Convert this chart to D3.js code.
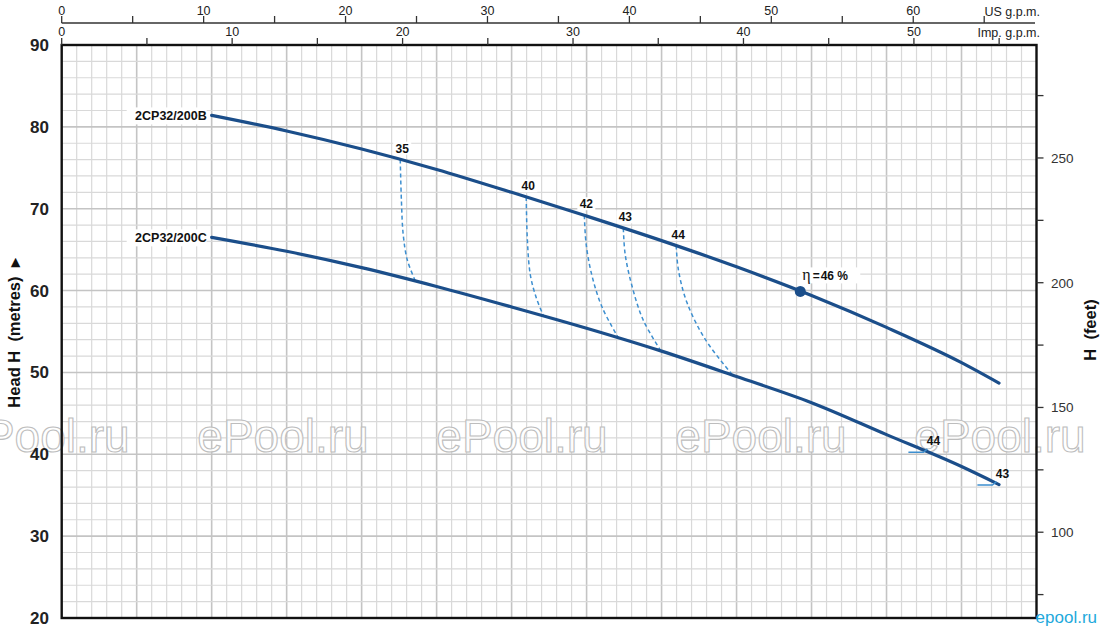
<!DOCTYPE html>
<html><head><meta charset="utf-8">
<script src="https://cdn.jsdelivr.net/npm/d3@7"></script>
<style>
html,body{margin:0;padding:0;background:#fff;}
svg{display:block;}
.narrow{font-family:"Liberation Sans Narrow","Arial Narrow","Liberation Sans",Arial,sans-serif;}
.sans{font-family:"Liberation Sans",Arial,sans-serif;}
</style></head>
<body>
<svg id="chart" width="1100" height="631"></svg>
<script>
// ---------------- DATA ----------------
// Flow in l/min (hidden base axis), head in metres
const flowDomain = [0, 260];
const headDomain = [20, 90];
const headTicks = [20, 30, 40, 50, 60, 70, 80, 90];
const feetTicks = [75, 100, 125, 150, 175, 200, 225, 250, 275];
const feetLabels = [100, 150, 200, 250];
const usTicks = [0,5,10,15,20,25,30,35,40,45,50,55,60,65];
const usLabels = [0,10,20,30,40,50,60];
const impTicks = [0,5,10,15,20,25,30,35,40,45,50,55];
const impLabels = [0,10,20,30,40,50];

const curveQ = [40, 60, 80, 100, 120, 140, 160, 180, 200, 220, 240, 250];
const curveB_H = [81.4, 79.5, 77.3, 74.8, 72.0, 69.1, 66.1, 62.9, 59.4, 55.5, 51.2, 48.7];
const curveC_H = [66.5, 64.8, 62.8, 60.5, 58.0, 55.4, 52.6, 49.5, 46.3, 42.4, 38.5, 36.3];
const curveNames = ["2CP32/200B", "2CP32/200C"];

// iso-efficiency dashed lines [Q, H] from curve B to curve C
const iso35 = [[90.3,76.0],[90.6,71.1],[91.1,66.8],[92.2,63.7],[94.3,61.2]];
const iso40 = [[123.9,71.4],[124.2,66.2],[125.0,61.9],[126.6,59.1],[128.5,56.9]];
const iso42 = [[139.4,69.2],[139.9,65.6],[141.5,61.7],[144.2,57.9],[148.5,54.2]];
const iso43 = [[149.8,67.6],[150.3,64.4],[152.2,60.4],[155.1,56.4],[159.7,52.7]];
const iso44 = [[163.9,65.5],[164.5,62.5],[166.8,58.5],[171.7,54.0],[178.9,49.7]];
const isoLines = [iso35, iso40, iso42, iso43, iso44];
const isoLabels = ["35", "40", "42", "43", "44"];

// efficiency marks at the end of curve C
const endMarkQ = [230.9, 249.3];
const endMarkH = [40.3, 36.3];
const endMarkLabels = ["44", "43"];

// best efficiency point
const bepQ = 197.0, bepH = 59.9, bepLabel = "46 %";

const watermarkCenters = [44, 283, 522, 761, 1000];

// ---------------- SCALES ----------------
const X0 = 61.7, X1 = 1036.5, YT = 45, YB = 618;
const svg = d3.select("#chart");
const x = d3.scaleLinear().domain(flowDomain).range([X0, X1]);
const y = d3.scaleLinear().domain(headDomain).range([YB, YT]);
const M2FT = 3.28084;
const yFt = d3.scaleLinear().domain([headDomain[0]*M2FT, headDomain[1]*M2FT]).range([YB, YT]);
const LPM2US = 0.264172, LPM2IMP = 0.219969;
const xUS = d3.scaleLinear().domain([0, flowDomain[1]*LPM2US]).range([X0, X1]);
const xImp = d3.scaleLinear().domain([0, flowDomain[1]*LPM2IMP]).range([X0, X1]);

const BLUE = "#1b4e8a", LBLUE = "#3d8fd0";

// ---------------- GRID ----------------
const g = svg.append("g");
const vMinor = d3.range(4, 260, 4);
g.selectAll(".vg").data(vMinor).enter().append("line")
  .attr("x1", d => x(d)).attr("x2", d => x(d)).attr("y1", YT).attr("y2", YB)
  .attr("stroke", d => d % 20 === 0 ? "#c4c4c4" : "#d9d9d9")
  .attr("stroke-width", d => d % 20 === 0 ? 1.6 : 1.2);
const hMinor = d3.range(22, 90, 2);
g.selectAll(".hg").data(hMinor).enter().append("line")
  .attr("x1", X0).attr("x2", X1).attr("y1", d => y(d)).attr("y2", d => y(d))
  .attr("stroke", d => d % 10 === 0 ? "#c4c4c4" : "#d9d9d9")
  .attr("stroke-width", d => d % 10 === 0 ? 1.6 : 1.2);

// ---------------- WATERMARK ----------------
svg.append("g").selectAll("text").data(watermarkCenters).enter().append("text")
  .attr("class", "sans").attr("x", d => d).attr("y", 452)
  .attr("text-anchor", "middle").attr("font-size", 46)
  .attr("fill", "#fff").attr("fill-opacity", 0.85)
  .attr("stroke", "#bdbdbd").attr("stroke-width", 1.1)
  .text("ePool.ru");

// ---------------- FRAME ----------------
svg.append("rect").attr("x", X0).attr("y", YT).attr("width", X1 - X0).attr("height", YB - YT)
  .attr("fill", "none").attr("stroke", "#111").attr("stroke-width", 2.4);

// ---------------- TOP AXES ----------------
const usY = 23;
svg.append("line").attr("x1", X0).attr("x2", 1035).attr("y1", usY).attr("y2", usY)
  .attr("stroke", "#333").attr("stroke-width", 1.3);
svg.append("g").selectAll("line").data(usTicks).enter().append("line")
  .attr("x1", d => xUS(d)).attr("x2", d => xUS(d)).attr("y1", usY).attr("y2", usY - 7)
  .attr("stroke", "#333").attr("stroke-width", 1.3);
svg.append("g").selectAll("text").data(usLabels).enter().append("text")
  .attr("class", "narrow").attr("x", d => xUS(d)).attr("y", 15)
  .attr("text-anchor", "middle").attr("font-size", 12.5).attr("fill", "#222").text(d => d);
svg.append("text").attr("class", "narrow").attr("x", 1040).attr("y", 16)
  .attr("text-anchor", "end").attr("font-size", 12.5).attr("fill", "#222").text("US g.p.m.");

svg.append("g").selectAll("line").data(impTicks).enter().append("line")
  .attr("x1", d => xImp(d)).attr("x2", d => xImp(d)).attr("y1", YT).attr("y2", YT - 7)
  .attr("stroke", "#333").attr("stroke-width", 1.3);
svg.append("g").selectAll("text").data(impLabels).enter().append("text")
  .attr("class", "narrow").attr("x", d => xImp(d)).attr("y", 36)
  .attr("text-anchor", "middle").attr("font-size", 12.5).attr("fill", "#222").text(d => d);
svg.append("text").attr("class", "narrow").attr("x", 1040).attr("y", 37)
  .attr("text-anchor", "end").attr("font-size", 12.5).attr("fill", "#222").text("Imp. g.p.m.");

// ---------------- LEFT AXIS ----------------
svg.append("g").selectAll("text").data(headTicks).enter().append("text")
  .attr("class", "narrow").attr("x", 49).attr("y", d => y(d) + 6)
  .attr("text-anchor", "end").attr("font-size", 17).attr("font-weight", "bold")
  .attr("fill", "#222").text(d => d);
svg.append("text").attr("class", "sans")
  .attr("transform", "translate(20,333) rotate(-90)")
  .attr("text-anchor", "middle").attr("font-size", 16.5).attr("font-weight", "bold").attr("fill", "#111")
  .attr("xml:space", "preserve")
  .text("Head H  (metres)  \u25B8");

// ---------------- RIGHT AXIS ----------------
svg.append("g").selectAll("line").data(feetTicks).enter().append("line")
  .attr("x1", X1).attr("x2", X1 + 7).attr("y1", d => yFt(d)).attr("y2", d => yFt(d))
  .attr("stroke", "#333").attr("stroke-width", 1.3);
svg.append("g").selectAll("text").data(feetLabels).enter().append("text")
  .attr("class", "narrow").attr("x", 1051).attr("y", d => yFt(d) + 5)
  .attr("font-size", 13.5).attr("fill", "#333").text(d => d);
svg.append("text").attr("class", "sans")
  .attr("transform", "translate(1096,330) rotate(-90)")
  .attr("text-anchor", "middle").attr("font-size", 16.5).attr("font-weight", "bold").attr("fill", "#111")
  .attr("xml:space", "preserve")
  .text("H  (feet)");

// ---------------- ISO-EFFICIENCY ----------------
const isoLine = d3.line().x(d => x(d[0])).y(d => y(d[1])).curve(d3.curveCatmullRom.alpha(0.5));
svg.append("g").selectAll("path").data(isoLines).enter().append("path")
  .attr("d", isoLine).attr("fill", "none").attr("stroke", LBLUE)
  .attr("stroke-width", 1.5).attr("stroke-dasharray", "4,3");

// ---------------- PUMP CURVES ----------------
const pumpLine = d3.line().x((d, i) => x(curveQ[i])).y(d => y(d)).curve(d3.curveMonotoneX);
svg.append("g").selectAll("path").data([curveB_H, curveC_H]).enter().append("path")
  .attr("d", pumpLine).attr("fill", "none").attr("stroke", BLUE)
  .attr("stroke-width", 3.2).attr("stroke-linecap", "round");

// end efficiency marks
endMarkQ.forEach((q, i) => {
  svg.append("path")
    .attr("d", d3.line()([[x(q) - 19, y(endMarkH[i]) + 0.5], [x(q) - 4, y(endMarkH[i]) + 0.5], [x(q), y(endMarkH[i]) - 3]]))
    .attr("fill", "none").attr("stroke", LBLUE).attr("stroke-width", 1.5);
  svg.append("text").attr("class", "sans")
    .attr("x", x(q) + 6).attr("y", y(endMarkH[i]) - 7)
    .attr("text-anchor", "middle").attr("font-size", 12).attr("font-weight", "bold")
    .attr("fill", "#111").text(endMarkLabels[i]);
});

// curve labels (with white background)
const nameH = [curveB_H[0], curveC_H[0]];
nameH.forEach((h, i) => {
  const tx = x(curveQ[0]) - 5, ty = y(h) + 5;
  svg.append("rect").attr("x", tx - 80).attr("y", ty - 13).attr("width", 80).attr("height", 17).attr("fill", "#fff");
  svg.append("text").attr("class", "sans").attr("x", tx).attr("y", ty)
    .attr("text-anchor", "end").attr("font-size", 12.5).attr("font-weight", "bold")
    .attr("fill", "#111").text(curveNames[i]);
});

// iso labels
isoLines.forEach((pts, i) => {
  const tx = x(pts[0][0]) + 2, ty = y(pts[0][1]) - 7;
  svg.append("rect").attr("x", tx - 9).attr("y", ty - 11).attr("width", 18).attr("height", 13).attr("fill", "#fff");
  svg.append("text").attr("class", "sans").attr("x", tx).attr("y", ty)
    .attr("text-anchor", "middle").attr("font-size", 12).attr("font-weight", "bold")
    .attr("fill", "#111").text(isoLabels[i]);
});

// best efficiency point
svg.append("circle").attr("cx", x(bepQ)).attr("cy", y(bepH)).attr("r", 5.5).attr("fill", BLUE);
const bx = x(bepQ) + 2, by = y(bepH) - 11;
svg.append("rect").attr("x", bx - 2).attr("y", by - 13).attr("width", 60).attr("height", 16).attr("fill", "#fff");
const bt = svg.append("text").attr("x", bx).attr("y", by).attr("fill", "#111");
bt.append("tspan").attr("font-family", "'Liberation Serif','DejaVu Serif',serif").attr("font-size", 16).text("\u03B7");
bt.append("tspan").attr("class", "sans").attr("font-size", 12).attr("font-weight", "bold").attr("dx", 2).text("=");
bt.append("tspan").attr("class", "sans").attr("font-size", 12).attr("font-weight", "bold").attr("dx", 1).text(bepLabel);

// corner watermark
svg.append("text").attr("class", "sans").attr("x", 1097).attr("y", 623)
  .attr("text-anchor", "end").attr("font-size", 17).attr("fill", "#1ea9dc")
  .text("epool.ru");
</script>
</body></html>
